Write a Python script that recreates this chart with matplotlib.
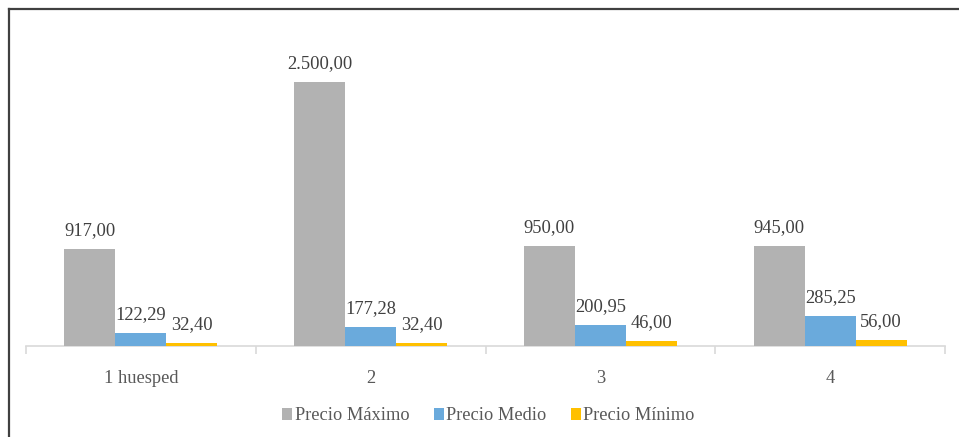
import numpy as np
import matplotlib.pyplot as plt
from matplotlib.lines import Line2D

categorias = ["1 huesped", "2", "3", "4"]
series = ["Precio Máximo", "Precio Medio", "Precio Mínimo"]
precio_maximo = [917.00, 2500.00, 950.00, 945.00]
precio_medio = [122.29, 177.28, 200.95, 285.25]
precio_minimo = [32.40, 32.40, 46.00, 56.00]

colores = ["#b2b2b2", "#6aaadc", "#ffc000"]


def fmt_es(v):
    # formato español: punto de miles y coma decimal
    s = f"{v:,.2f}"
    return s.replace(",", "X").replace(".", ",").replace("X", ".")


plt.rcParams['font.family'] = ['Liberation Serif', 'DejaVu Serif']

fig = plt.figure(figsize=(9.59, 4.37), dpi=100)
W, H = 959, 437
ax = fig.add_axes([26 / W, 1 - 346 / H, 919 / W, 316.8 / H])

x = np.arange(len(categorias))
ancho = 0.222
valores = [precio_maximo, precio_medio, precio_minimo]
for i, (nombre, vals, c) in enumerate(zip(series, valores, colores)):
    barras = ax.bar(x + (i - 1) * ancho, vals, ancho, color=c, label=nombre, zorder=2)
    for b, v in zip(barras, vals):
        ax.annotate(fmt_es(v), (b.get_x() + b.get_width() / 2, b.get_height()),
                    xytext=(0, 7), textcoords="offset points",
                    ha="center", va="bottom", fontsize=13.3, color="#404040")

ax.set_xlim(-0.5, len(categorias) - 0.5)
ax.set_ylim(0, 3000)
ax.set_yticks([])
for s in ["top", "right", "left"]:
    ax.spines[s].set_visible(False)
ax.spines["bottom"].set_color("#d9d9d9")
ax.spines["bottom"].set_linewidth(1.2)
ax.spines["bottom"].set_zorder(1)

ax.set_xticks(x)
ax.set_xticklabels(categorias, fontsize=13.3, color="#595959")
ax.tick_params(axis="x", which="major", length=0, pad=17)
ax.set_xticks(np.arange(-0.5, len(categorias)), minor=True)
ax.tick_params(axis="x", which="minor", length=6, color="#d9d9d9", width=1.2)

fig.legend(loc="center", bbox_to_anchor=(0.5 + 9 / W, 1 - 416 / H), ncol=3, frameon=False,
           fontsize=13.2, handlelength=0.55, handleheight=0.55, handletextpad=0.15,
           columnspacing=1.3, labelcolor="#595959")

# marco de la figura (solo arriba e izquierda visibles)
fig.add_artist(Line2D([8.5 / W, 958 / W], [1 - 8.5 / H, 1 - 8.5 / H],
                      transform=fig.transFigure, color="#404040", lw=1.6))
fig.add_artist(Line2D([8.5 / W, 8.5 / W], [0, 1 - 8.5 / H],
                      transform=fig.transFigure, color="#404040", lw=1.6))

fig.savefig("out.png", dpi=100, facecolor="white")
